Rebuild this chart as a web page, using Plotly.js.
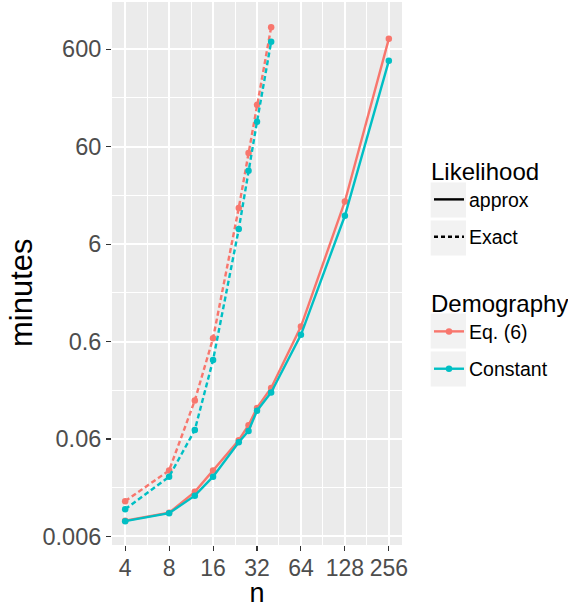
<!DOCTYPE html>
<html>
<head>
<meta charset="utf-8">
<script src="https://cdn.plot.ly/plotly-3.0.1.min.js"></script>
<style>html,body{margin:0;padding:0;background:#fff;}#chart{width:568px;height:608px;}</style>
</head>
<body>
<div id="chart"></div>
<script>
// ---- data ----
const nApprox = [4, 8, 12, 16, 24, 28, 32, 40, 64, 128, 256];
const eq6Approx = [0.0087, 0.0105, 0.0172, 0.0285, 0.0582, 0.083, 0.125, 0.20, 0.853, 16.4, 765];
const constApprox = [0.0086, 0.0104, 0.0157, 0.0246, 0.0555, 0.0725, 0.117, 0.18, 0.703, 11.7, 455];

const nExact = [4, 8, 12, 16, 24, 28, 32, 40];
const eq6Exact = [0.0138, 0.0285, 0.149, 0.647, 14.1, 51.7, 161, 1007];
const constExact = [0.0114, 0.0246, 0.0743, 0.387, 8.55, 34.0, 108, 713];

const xTicks = [4, 8, 16, 32, 64, 128, 256];
const xTickText = ['4', '8', '16', '32', '64', '128', '256'];
const yTicks = [0.006, 0.06, 0.6, 6, 60, 600];
const yTickText = ['0.006', '0.06', '0.6', '6', '60', '600'];

const likelihoodLabels = ['approx', 'Exact'];
const demographyLabels = ['Eq. (6)', 'Constant'];

// ---- style ----
const RED = '#F8766D', TEAL = '#00BFC4';
const FONT = 'Liberation Sans, Arial, Helvetica, sans-serif';
const DASH = '5px,3px';
const LW = 2.4, MS = 6.5;

// geometric midpoints for minor gridlines
const mids = a => a.slice(0, -1).map((v, i) => Math.sqrt(v * a[i + 1]));

const M = {l: 112, r: 166, t: 2, b: 63};
const W = 568, H = 608;
const pw = W - M.l - M.r, ph = H - M.t - M.b;
const px2x = p => (p - M.l) / pw;
const py2y = p => (H - M.b - p) / ph;

const traces = [
  {x: nApprox, y: eq6Approx, mode: 'lines+markers', line: {color: RED, width: LW}, marker: {color: RED, size: MS}, showlegend: false},
  {x: nExact, y: eq6Exact, mode: 'lines+markers', line: {color: RED, width: LW, dash: DASH}, marker: {color: RED, size: MS}, showlegend: false},
  {x: nApprox, y: constApprox, mode: 'lines+markers', line: {color: TEAL, width: LW}, marker: {color: TEAL, size: MS}, showlegend: false},
  {x: nExact, y: constExact, mode: 'lines+markers', line: {color: TEAL, width: LW, dash: DASH}, marker: {color: TEAL, size: MS}, showlegend: false},
  // legend keys
  {x: [null], y: [null], name: likelihoodLabels[0], mode: 'lines', line: {color: '#000', width: LW}, legend: 'legend', legendgroup: 'l1'},
  {x: [null], y: [null], name: likelihoodLabels[1], mode: 'lines', line: {color: '#000', width: LW, dash: '4px,3px'}, legend: 'legend', legendgroup: 'l2'},
  {x: [null], y: [null], name: demographyLabels[0], mode: 'lines+markers', line: {color: RED, width: LW}, marker: {color: RED, size: MS}, legend: 'legend2', legendgroup: 'd1'},
  {x: [null], y: [null], name: demographyLabels[1], mode: 'lines+markers', line: {color: TEAL, width: LW}, marker: {color: TEAL, size: MS}, legend: 'legend2', legendgroup: 'd2'}
];

// light key backgrounds (ggplot legend.key), centred on the legend entries
const keyBox = (center) => ({
  type: 'rect', xref: 'paper', yref: 'paper', layer: 'below',
  x0: px2x(430.7), x1: px2x(466), y0: py2y(center + 17.5), y1: py2y(center - 17.5),
  fillcolor: '#F2F2F2', line: {width: 0}
});

const legendCommon = {
  xref: 'container', yref: 'container', xanchor: 'left', yanchor: 'top',
  bgcolor: 'rgba(0,0,0,0)', borderwidth: 0, itemwidth: 30, tracegroupgap: 9,
  font: {family: FONT, size: 19.5, color: '#000'},
  itemclick: false, itemdoubleclick: false
};

const layout = {
  width: W, height: H, margin: M,
  paper_bgcolor: '#fff', plot_bgcolor: '#EBEBEB',
  font: {family: FONT, color: '#000'},
  xaxis: {
    type: 'log', range: [Math.log10(4) - 0.3 * Math.log10(2), Math.log10(256) + 0.3 * Math.log10(2)],
    tickvals: xTicks, ticktext: xTickText,
    ticks: 'outside', ticklen: 5, tickwidth: 1.1, tickcolor: '#333',
    ticklabelstandoff: -3,
    tickfont: {family: FONT, size: 23, color: '#4D4D4D'},
    showgrid: true, gridcolor: '#fff', gridwidth: 2,
    minor: {tickvals: mids(xTicks), showgrid: true, gridcolor: '#fff', gridwidth: 1, ticks: ''},
    showline: false, zeroline: false,
    title: {text: 'n', font: {family: FONT, size: 27, color: '#000'}, standoff: 13}
  },
  yaxis: {
    type: 'log', range: [-2.31, 3.262],
    tickvals: yTicks, ticktext: yTickText,
    ticks: 'outside', ticklen: 5, tickwidth: 1.1, tickcolor: '#333',
    tickfont: {family: FONT, size: 23.5, color: '#4D4D4D'},
    showgrid: true, gridcolor: '#fff', gridwidth: 2,
    minor: {tickvals: mids(yTicks), showgrid: true, gridcolor: '#fff', gridwidth: 1, ticks: ''},
    showline: false, zeroline: false
  },
  annotations: [{
    text: 'minutes', textangle: -90, xref: 'paper', yref: 'paper',
    x: px2x(21), y: py2y(293), xanchor: 'center', yanchor: 'middle', showarrow: false,
    font: {family: FONT, size: 31, color: '#000'}
  }],
  shapes: [keyBox(200), keyBox(238), keyBox(331), keyBox(369)],
  legend: Object.assign({}, legendCommon, {
    x: 429 / W, y: 1 - 149 / H,
    title: {text: 'Likelihood', font: {family: FONT, size: 24, color: '#000'}}
  }),
  legend2: Object.assign({}, legendCommon, {
    x: 429 / W, y: 1 - 281 / H,
    title: {text: 'Demography', font: {family: FONT, size: 24, color: '#000'}}
  }),
  showlegend: true
};

Plotly.newPlot('chart', traces, layout, {staticPlot: true, displayModeBar: false});
</script>
</body>
</html>
